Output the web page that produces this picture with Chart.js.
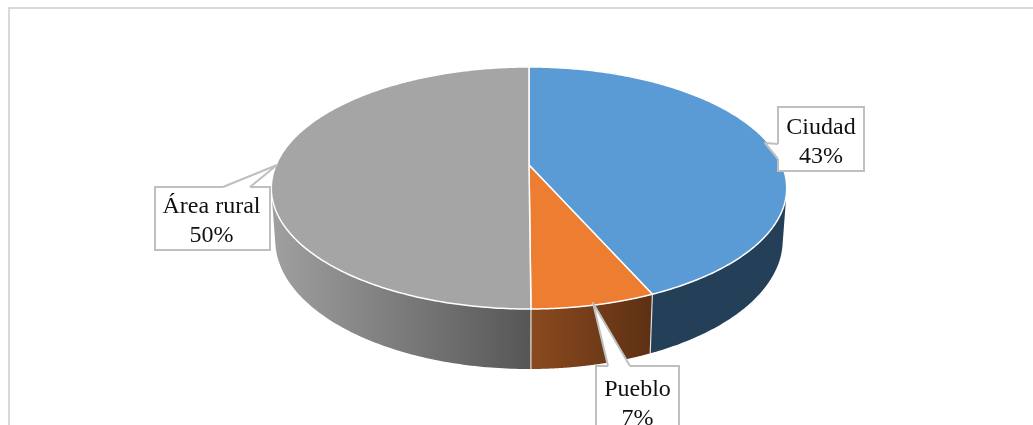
<!DOCTYPE html>
<html>
<head>
<meta charset="utf-8">
<style>
  html, body { margin: 0; padding: 0; background: #fff; overflow: hidden; }
  canvas { display: block; }
</style>
<script src="https://cdn.jsdelivr.net/npm/chart.js@4"></script>
</head>
<body>
<canvas id="pieChart" width="1033" height="425"></canvas>
<script>
const categories = ['Ciudad', 'Pueblo', 'Área rural'];
const shares = [43.4, 6.5, 50.1];
const shareLabels = ['43%', '7%', '50%'];
const topColors = ['#5b9bd5', '#ed7d31', '#a5a5a5'];
const sideColorsLeft = ['#243f58', '#8a4a1e', '#a0a0a0'];
const sideColorsRight = ['#243f58', '#5d3014', '#565656'];

// perspective of the tilted disc
const tilt = 0.19, squash = 0.461, depth = 0.015, thickness = 0.2043;

function project(arc, angle, lower) {
  const ux = Math.cos(angle), uy = Math.sin(angle);
  const w = 1 - tilt * uy + (lower ? depth : 0);
  const yy = squash * uy + (lower ? thickness : 0);
  return [arc.x + arc.outerRadius * ux / w, arc.y + arc.outerRadius * yy / w];
}

function arcPoints(arc, lower) {
  const pts = [];
  const steps = 240;
  for (let i = 0; i <= steps; i++) {
    pts.push(project(arc, arc.startAngle + (arc.endAngle - arc.startAngle) * i / steps, lower));
  }
  return pts;
}

function tracePoints(ctx, pts, first) {
  pts.forEach((p, i) => {
    if (i === 0 && first) ctx.moveTo(p[0], p[1]);
    else ctx.lineTo(p[0], p[1]);
  });
}

function signedArea(pts) {
  let area = 0;
  pts.forEach((p, i) => {
    const q = pts[(i + 1) % pts.length];
    area += p[0] * q[1] - q[0] * p[1];
  });
  return area;
}

const disc3d = {
  id: 'disc3d',
  beforeDatasetsDraw(chart) {
    const ctx = chart.ctx;
    const arcs = chart.getDatasetMeta(0).data;

    // sides first, the top face covers whatever is behind
    arcs.forEach((arc, i) => {
      const top = arcPoints(arc, false);
      const bottom = arcPoints(arc, true);
      const left = Math.min(...top.concat(bottom).map(p => p[0]));
      const right = Math.max(...top.concat(bottom).map(p => p[0]));
      const grad = ctx.createLinearGradient(left, 0, right, 0);
      grad.addColorStop(0, sideColorsLeft[i]);
      grad.addColorStop(1, sideColorsRight[i]);
      ctx.fillStyle = grad;
      // quads in one path, same winding, so there are no seams
      ctx.beginPath();
      for (let j = 0; j < top.length - 1; j++) {
        const quad = [top[j], top[j + 1], bottom[j + 1], bottom[j]];
        if (signedArea(quad) < 0) quad.reverse();
        tracePoints(ctx, quad, true);
        ctx.closePath();
      }
      ctx.fill();
    });

    // white edges between the side faces
    arcs.forEach((arc) => {
      ctx.strokeStyle = 'rgba(255,255,255,0.8)';
      ctx.lineWidth = 1.2;
      ctx.beginPath();
      tracePoints(ctx, [project(arc, arc.startAngle, false), project(arc, arc.startAngle, true)], true);
      ctx.stroke();
    });

    arcs.forEach((arc, i) => {
      ctx.beginPath();
      ctx.moveTo(arc.x, arc.y);
      tracePoints(ctx, arcPoints(arc, false), false);
      ctx.closePath();
      ctx.fillStyle = topColors[i];
      ctx.fill();
      ctx.strokeStyle = '#ffffff';
      ctx.lineWidth = 1.5;
      ctx.lineJoin = 'round';
      ctx.stroke();
    });
    return false;
  }
};

// callout boxes: [left, top, right, bottom], pointer as three points
const boxes = [[778, 107, 864, 171], [596, 366, 679, 432], [155, 187, 270, 250]];
const pointers = [
  [[778, 144], [765, 143], [778, 159]],
  [[608, 366], [593, 303], [630, 366]],
  [[223, 187], [277, 165], [250, 187]]
];
const labelLines = [[134, 163], [396, 425], [213, 242]];

const callouts = {
  id: 'callouts',
  afterDraw(chart) {
    const ctx = chart.ctx;
    boxes.forEach((b, i) => {
      const tip = pointers[i];
      ctx.beginPath();
      ctx.rect(b[0], b[1], b[2] - b[0], b[3] - b[1]);
      ctx.fillStyle = '#ffffff';
      ctx.fill();
      ctx.strokeStyle = '#bfbfbf';
      ctx.lineWidth = 2;
      ctx.lineJoin = 'miter';
      ctx.stroke();
      // pointer: white wedge hides the box edge under it
      ctx.beginPath();
      ctx.moveTo(tip[0][0], tip[0][1]);
      ctx.lineTo(tip[1][0], tip[1][1]);
      ctx.lineTo(tip[2][0], tip[2][1]);
      ctx.closePath();
      ctx.fillStyle = '#ffffff';
      ctx.fill();
      ctx.strokeStyle = '#ffffff';
      ctx.lineWidth = 3;
      ctx.lineCap = 'butt';
      ctx.beginPath();
      ctx.moveTo(tip[0][0], tip[0][1]);
      ctx.lineTo(tip[2][0], tip[2][1]);
      ctx.stroke();
      ctx.strokeStyle = '#bfbfbf';
      ctx.lineWidth = 2;
      ctx.lineJoin = 'round';
      ctx.beginPath();
      ctx.moveTo(tip[0][0], tip[0][1]);
      ctx.lineTo(tip[1][0], tip[1][1]);
      ctx.lineTo(tip[2][0], tip[2][1]);
      ctx.stroke();

      const cx = (b[0] + b[2]) / 2;
      ctx.fillStyle = '#111111';
      ctx.font = '24px "Liberation Serif"';
      ctx.textAlign = 'center';
      ctx.textBaseline = 'alphabetic';
      ctx.fillText(categories[i], cx - (i === 2 ? 1 : 0), labelLines[i][0]);
      ctx.fillText(shareLabels[i], cx - (i === 2 ? 1 : 0), labelLines[i][1]);
    });
  }
};

const frame = {
  id: 'frame',
  beforeDraw(chart) {
    const ctx = chart.ctx;
    ctx.fillStyle = '#ffffff';
    ctx.fillRect(0, 0, chart.width, chart.height);
    ctx.strokeStyle = '#d9d9d9';
    ctx.lineWidth = 2;
    ctx.beginPath();
    ctx.moveTo(9, 430);
    ctx.lineTo(9, 8);
    ctx.lineTo(1040, 8);
    ctx.stroke();
  }
};

new Chart(document.getElementById('pieChart'), {
  type: 'pie',
  data: {
    labels: categories,
    datasets: [{
      data: shares,
      backgroundColor: topColors,
      borderWidth: 0
    }]
  },
  options: {
    responsive: false,
    animation: false,
    radius: 253,
    layout: { padding: { left: 25, bottom: 95 } },
    plugins: {
      legend: { display: false },
      title: { display: false },
      tooltip: { enabled: false }
    }
  },
  plugins: [frame, disc3d, callouts]
});
</script>
</body>
</html>
